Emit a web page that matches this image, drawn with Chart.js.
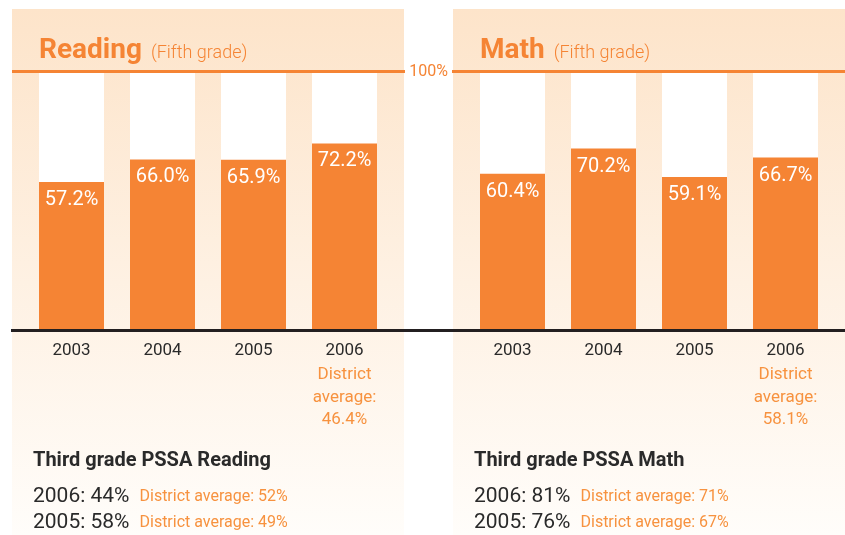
<!DOCTYPE html>
<html>
<head>
<meta charset="utf-8">
<script src="https://cdn.jsdelivr.net/npm/chart.js@4.4.1/dist/chart.umd.min.js"></script>
<style>
  html, body { margin: 0; padding: 0; background: #fff; }
  #wrap { position: relative; width: 845px; height: 535px; }
  #wrap canvas { position: absolute; left: 0; top: 0; }
</style>
</head>
<body>
<div id="wrap">
  <canvas id="readingChart" width="845" height="535"></canvas>
  <canvas id="mathChart" width="845" height="535"></canvas>
</div>
<script>
// fifth grade results
const years = ['2003', '2004', '2005', '2006'];
const readingScores = [57.2, 66.0, 65.9, 72.2];
const mathScores = [60.4, 70.2, 59.1, 66.7];
const ceiling = [100, 100, 100, 100];
const readingDistrict2006 = 46.4;
const mathDistrict2006 = 58.1;

// third grade PSSA
const thirdYears = ['2006', '2005'];
const thirdReading = [44, 58];
const thirdReadingDistrict = [52, 49];
const thirdMath = [81, 76];
const thirdMathDistrict = [71, 67];

const ORANGE = '#F58434';
const LIGHT_ORANGE = '#F7923F';
const DARK = '#2a2a2a';
const FONT = 'Roboto, "DejaVu Sans", sans-serif';

Chart.defaults.font.family = FONT;
Chart.defaults.devicePixelRatio = 1;

// draws the peach panel, titles, labels and the third grade block
const panelPlugin = {
    id: 'panel',
    beforeDraw(chart, args, opts) {
        const ctx = chart.ctx;
        const area = chart.chartArea;
        const left = area.left - 14, right = area.right + 14;
        const g = ctx.createLinearGradient(0, 9, 0, 535);
        g.addColorStop(0, '#FDE4CA');
        g.addColorStop(1, '#FFFDFA');
        ctx.save();
        ctx.fillStyle = g;
        ctx.fillRect(left, 9, right - left, 526);
        ctx.restore();
    },
    afterDatasetsDraw(chart, args, opts) {
        const ctx = chart.ctx;
        const area = chart.chartArea;
        const x = chart.scales.x;
        const panelLeft = area.left - 14;
        const firstBar = chart.getDatasetMeta(1).data[0];
        const barLeft = firstBar.x - firstBar.width / 2;

        ctx.save();
        // title
        ctx.textBaseline = 'alphabetic';
        ctx.textAlign = 'left';
        ctx.fillStyle = ORANGE;
        ctx.font = 'bold 28px ' + FONT;
        ctx.fillText(opts.title, barLeft, 58);
        const tw = ctx.measureText(opts.title).width;
        ctx.font = '300 18px ' + FONT;
        ctx.fillText('(Fifth grade)', barLeft + tw + 9, 58);

        // values inside bars
        const meta = chart.getDatasetMeta(1);
        const vals = chart.data.datasets[1].data;
        ctx.fillStyle = '#fff';
        ctx.font = '20px ' + FONT;
        ctx.textAlign = 'center';
        ctx.textBaseline = 'middle';
        meta.data.forEach((bar, i) => {
            ctx.fillText(vals[i].toFixed(1) + '%', bar.x, bar.y + 18);
        });

        // year labels
        ctx.fillStyle = DARK;
        ctx.font = '17px ' + FONT;
        years.forEach((yr, i) => {
            ctx.fillText(yr, x.getPixelForValue(i), 351);
        });

        // district average under last year
        const lx = x.getPixelForValue(years.length - 1);
        ctx.fillStyle = LIGHT_ORANGE;
        ctx.fillText('District', lx, 375);
        ctx.fillText('average:', lx, 398);
        ctx.fillText(opts.district.toFixed(1) + '%', lx, 420);

        // third grade block
        const tx = panelLeft + 21;
        ctx.textAlign = 'left';
        ctx.fillStyle = DARK;
        ctx.font = 'bold 20px ' + FONT;
        ctx.fillText(opts.thirdTitle, tx, 461);
        thirdYears.forEach((yr, i) => {
            const yy = 497 + i * 26;
            ctx.fillStyle = DARK;
            ctx.font = '21px ' + FONT;
            const s = yr + ': ' + opts.third[i] + '%';
            ctx.fillText(s, tx, yy);
            const w = ctx.measureText(s).width;
            ctx.fillStyle = LIGHT_ORANGE;
            ctx.font = '16px ' + FONT;
            ctx.fillText('District average: ' + opts.thirdDistrict[i] + '%', tx + w + 10, yy);
        });
        ctx.restore();
    },
    afterDraw(chart, args, opts) {
        if (!opts.drawRules) return;
        const ctx = chart.ctx;
        const y = chart.scales.y;
        const top = y.getPixelForValue(100);
        const base = y.getPixelForValue(0);
        ctx.save();
        // 100% rule with its label in the gap
        ctx.fillStyle = ORANGE;
        ctx.fillRect(12, top - 2, 393, 3);
        ctx.fillRect(452, top - 2, 393, 3);
        ctx.font = '16px ' + FONT;
        ctx.textAlign = 'center';
        ctx.textBaseline = 'middle';
        ctx.fillText('100%', 428.5, top);
        // baseline
        ctx.fillStyle = '#231f20';
        ctx.fillRect(11, base, 834, 3);
        ctx.restore();
    }
};

function makeChart(id, scores, padLeft, padRight, panelOpts) {
    return new Chart(document.getElementById(id), {
        type: 'bar',
        data: {
            labels: years,
            datasets: [
                { data: ceiling, backgroundColor: '#ffffff', grouped: false, order: 2,
                  barPercentage: 65 / 91, categoryPercentage: 1 },
                { data: scores, backgroundColor: ORANGE, grouped: false, order: 1,
                  barPercentage: 65 / 91, categoryPercentage: 1 }
            ]
        },
        options: {
            responsive: false,
            animation: false,
            layout: { padding: { left: padLeft, right: padRight, top: 72, bottom: 206 } },
            scales: {
                x: { display: false },
                y: { display: false, min: 0, max: 100 }
            },
            plugins: {
                legend: { display: false },
                tooltip: { enabled: false },
                panel: panelOpts
            }
        },
        plugins: [panelPlugin]
    });
}

makeChart('readingChart', readingScores, 26, 455, {
    title: 'Reading', district: readingDistrict2006,
    thirdTitle: 'Third grade PSSA Reading', third: thirdReading, thirdDistrict: thirdReadingDistrict,
    drawRules: false
});
makeChart('mathChart', mathScores, 467, 14, {
    title: 'Math', district: mathDistrict2006,
    thirdTitle: 'Third grade PSSA Math', third: thirdMath, thirdDistrict: thirdMathDistrict,
    drawRules: true
});
</script>
</body>
</html>
